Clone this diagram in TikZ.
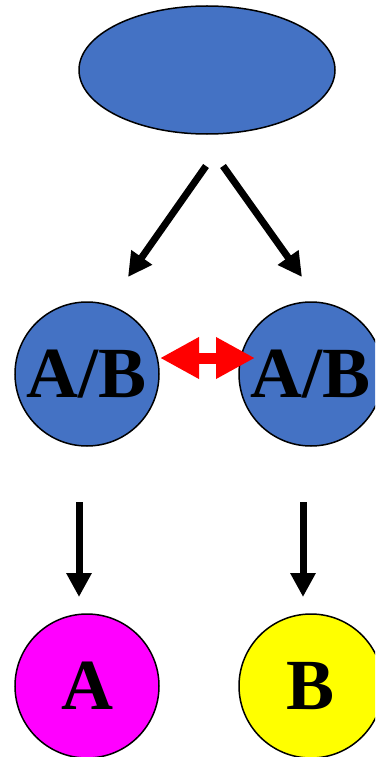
\documentclass[tikz,border=0pt]{standalone}
\usepackage{fontspec}
\setmainfont{Liberation Serif}
\usetikzlibrary{arrows.meta,shapes.geometric}
\definecolor{nodeblue}{HTML}{4472C4}
\definecolor{nodemagenta}{HTML}{FF00FF}
\definecolor{nodeyellow}{HTML}{FFFF00}
\definecolor{linkred}{HTML}{FF0000}
\begin{document}
\begin{tikzpicture}[x=1pt,y=-1pt,
  bubble/.style={circle, draw=black, line width=1.5pt, minimum size=144pt, inner sep=0pt,
    font=\fontsize{72}{72}\selectfont\bfseries},
  blackarrow/.style={line width=7pt, -{Triangle[length=24pt,width=24pt]}},
  redlink/.style={draw=linkred, line width=11pt, {Triangle[length=39pt,width=39pt]}-{Triangle[length=39pt,width=39pt]}}
]
\useasboundingbox (0,0) rectangle (375,757);
\clip (0,0) rectangle (375,757);
\node[ellipse, draw=black, line width=1.5pt, fill=nodeblue, minimum width=256pt, minimum height=128pt, inner sep=0pt] (top) at (207,70) {};
\node[bubble, fill=nodeblue] (mixL) at (87,374) {A/B};
\node[bubble, fill=nodeblue] (mixR) at (311,374) {A/B};
\node[bubble, fill=nodemagenta] (pureA) at (87,686) {A};
\node[bubble, fill=nodeyellow] (pureB) at (311,686) {B};
% arrow end points
\coordinate (tl) at (206,166);
\coordinate (tlend) at (128,277);
\coordinate (tr) at (223,166);
\coordinate (trend) at (302,277);
\coordinate (dl) at (79,502);
\coordinate (dlend) at (79,597);
\coordinate (dr) at (303,502);
\coordinate (drend) at (303,597);
\coordinate (rl) at (160,358);
\coordinate (rr) at (255,358);
\draw[blackarrow] (tl) -- (tlend);
\draw[blackarrow] (tr) -- (trend);
\draw[blackarrow] (dl) -- (dlend);
\draw[blackarrow] (dr) -- (drend);
\draw[redlink] (rl) -- (rr);
\end{tikzpicture}
\end{document}
